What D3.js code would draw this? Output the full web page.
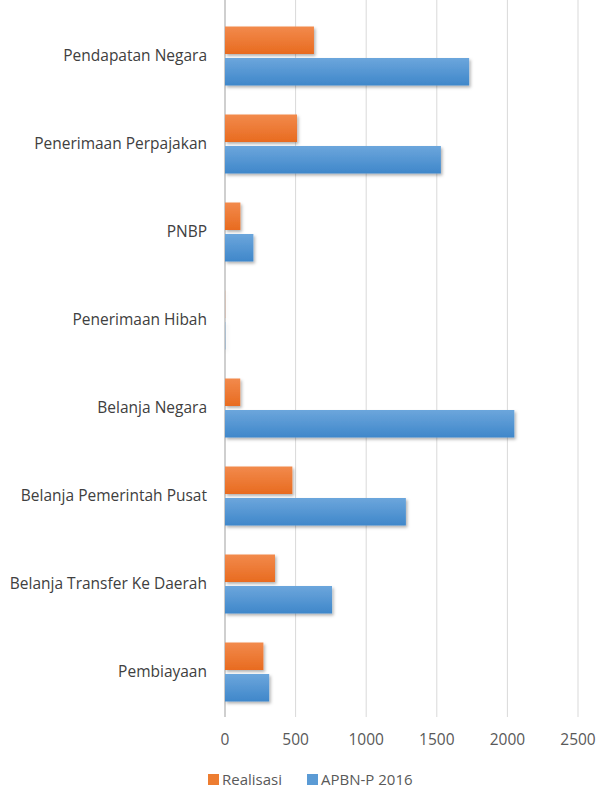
<!DOCTYPE html>
<meta charset="utf-8">
<style>
  body { margin: 0; background: #fff; }
  text { font-family: "Open Sans", "Noto Sans", sans-serif; }
</style>
<svg width="601" height="788"></svg>
<script src="https://d3js.org/d3.v7.min.js"></script>
<script>

var categories = ["Pendapatan Negara", "Penerimaan Perpajakan", "PNBP", "Penerimaan Hibah",
  "Belanja Negara", "Belanja Pemerintah Pusat", "Belanja Transfer Ke Daerah", "Pembiayaan"];
var realisasi = [630, 510, 109, 1, 108, 477, 354, 272];
var apbnp = [1729, 1529, 201, 2, 2049, 1281, 758, 313];
var seriesNames = ["Realisasi", "APBN-P 2016"];
var xTicks = [0, 500, 1000, 1500, 2000, 2500];

var svg = d3.select("svg");
var width = +svg.attr("width");

var x = d3.scaleLinear().domain([0, 2500]).range([225, 578]);
var y = d3.scaleBand().domain(categories).range([12, 716]);
var barH = 27.5, gap = 4;

var defs = svg.append("defs");
function grad(id, c1, c2) {
  var g = defs.append("linearGradient").attr("id", id)
    .attr("x1", 0).attr("y1", 0).attr("x2", 0).attr("y2", 1);
  g.append("stop").attr("offset", "0%").attr("stop-color", c1);
  g.append("stop").attr("offset", "100%").attr("stop-color", c2);
}
grad("gOrange", "#f28a4c", "#e86b20");
grad("gBlue", "#6ca6dc", "#3f87ca");

var f = defs.append("filter").attr("id", "shadow")
  .attr("x", "-10%").attr("y", "-20%").attr("width", "130%").attr("height", "160%");
f.append("feDropShadow").attr("dx", 1.5).attr("dy", 2).attr("stdDeviation", 1.5)
  .attr("flood-color", "#000").attr("flood-opacity", 0.3);

// grid
svg.append("g").selectAll("line")
  .data(xTicks)
  .enter().append("line")
  .attr("x1", function(d) { return x(d); })
  .attr("x2", function(d) { return x(d); })
  .attr("y1", 0).attr("y2", 717)
  .attr("stroke", function(d) { return d === 0 ? "#bfbfbf" : "#d9d9d9"; })
  .attr("stroke-width", function(d) { return d === 0 ? 1.5 : 1; });

// tick labels
svg.append("g").selectAll("text")
  .data(xTicks)
  .enter().append("text")
  .attr("x", function(d) { return x(d); })
  .attr("y", 740)
  .attr("dy", "0.35em")
  .attr("text-anchor", "middle")
  .attr("font-size", 15.5)
  .attr("fill", "#595959")
  .text(function(d) { return d; });

// category labels
svg.append("g").selectAll("text")
  .data(categories)
  .enter().append("text")
  .attr("x", 207)
  .attr("y", function(d) { return y(d) + y.bandwidth() / 2; })
  .attr("dy", "0.35em")
  .attr("text-anchor", "end")
  .attr("font-size", 15.5)
  .attr("fill", "#404040")
  .text(function(d) { return d; });

var bars = svg.append("g").attr("filter", "url(#shadow)");

bars.selectAll("rect.r")
  .data(realisasi)
  .enter().append("rect")
  .attr("class", "r")
  .attr("x", x(0))
  .attr("y", function(d, i) { return y(categories[i]) + y.bandwidth() / 2 - gap / 2 - barH; })
  .attr("width", function(d) { return x(d) - x(0); })
  .attr("height", barH)
  .attr("fill", "url(#gOrange)");

bars.selectAll("rect.a")
  .data(apbnp)
  .enter().append("rect")
  .attr("class", "a")
  .attr("x", x(0))
  .attr("y", function(d, i) { return y(categories[i]) + y.bandwidth() / 2 + gap / 2; })
  .attr("width", function(d) { return x(d) - x(0); })
  .attr("height", barH)
  .attr("fill", "url(#gBlue)");

// legend
var legend = svg.append("g");
var lx = [208, 307], colors = ["#ed7d31", "#5b9bd5"];
seriesNames.forEach(function(s, i) {
  legend.append("rect")
    .attr("x", lx[i]).attr("y", 774)
    .attr("width", 11).attr("height", 11)
    .attr("fill", colors[i]);
  legend.append("text")
    .attr("x", lx[i] + 14).attr("y", 780)
    .attr("dy", "0.35em")
    .attr("font-size", 15)
    .attr("fill", "#595959")
    .text(s);
});

</script>
